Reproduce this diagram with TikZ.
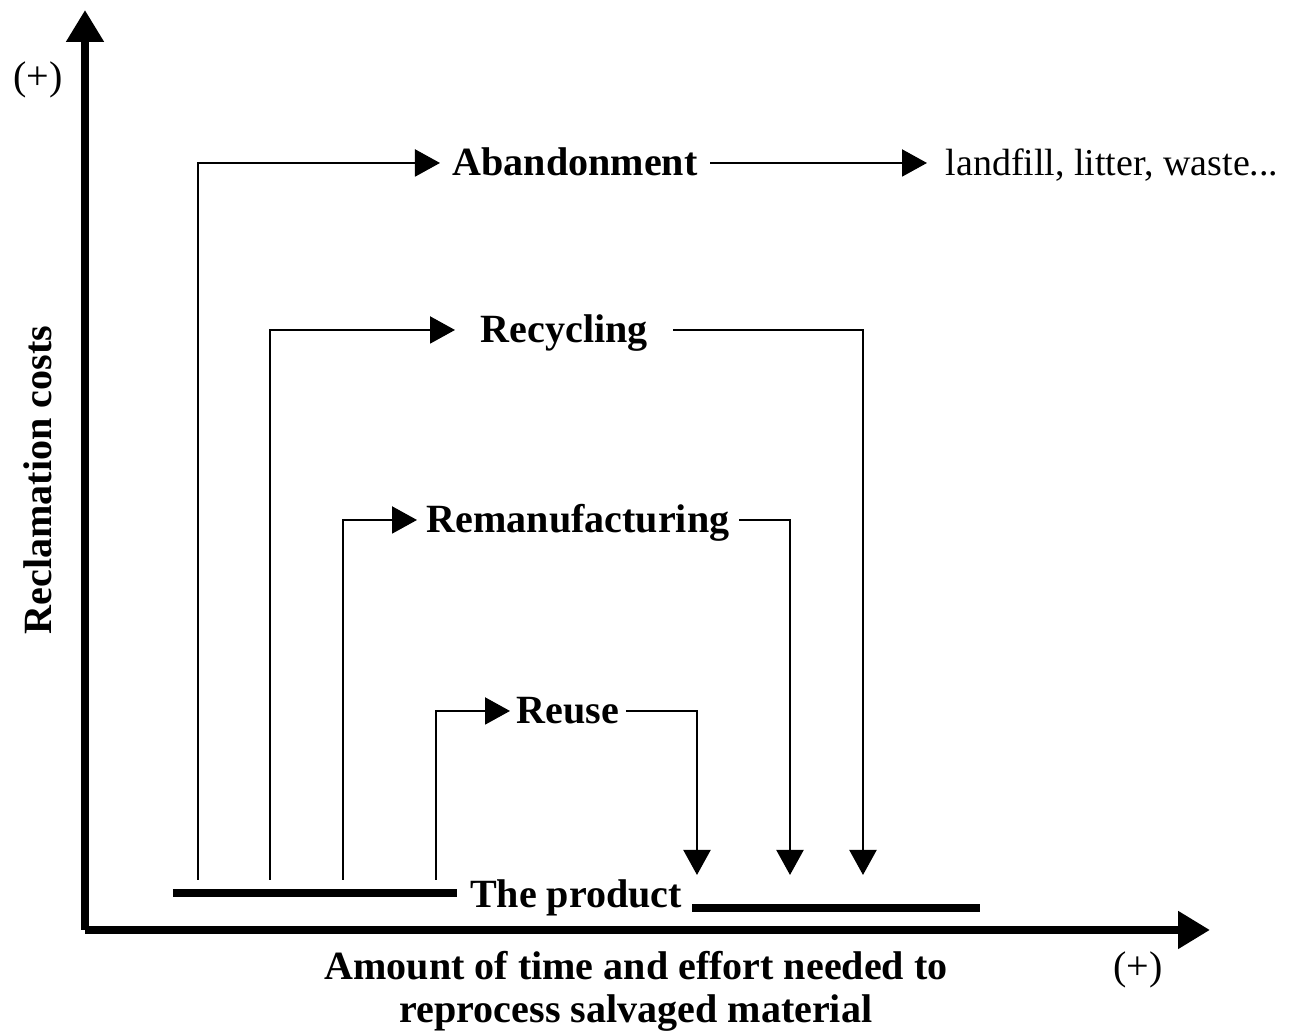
\documentclass[tikz,border=0pt]{standalone}
\usepackage{fontspec}
\setmainfont{Liberation Serif}
\usetikzlibrary{arrows.meta,positioning}

\begin{document}
\begin{tikzpicture}[
    stage/.style={font=\fontsize{11.4}{13}\selectfont\bfseries, inner ysep=0pt, inner xsep=0.12cm, text height=0.32cm, text depth=0.06cm},
    plain/.style={font=\fontsize{11.4}{13}\selectfont, inner ysep=0pt, inner xsep=0.18cm, text height=0.32cm, text depth=0.06cm},
    xlab/.style={font=\fontsize{11.4}{12.2}\selectfont\bfseries, align=center, inner sep=0pt},
    flow/.style={line width=0.6pt, -{Triangle[length=0.25cm,width=0.27cm]}},
    link/.style={line width=0.6pt},
    axis/.style={line width=2.4pt, -{Triangle[length=0.32cm,width=0.36cm]}},
    bar/.style={line width=2.4pt}]
    \useasboundingbox (0,0) rectangle (13.15,10.31);

    % axes
    \coordinate (o) at (0.85,1.01);
    \coordinate (ytop) at (0.85,10.21);
    \coordinate (xend) at (12.10,1.01);
    \draw[axis] (o) -- (ytop);
    \draw[axis] (o) -- (xend);
    \node[plain] (yplus) at (0.38,9.54) {(+)};
    \node[plain] (xplus) at (11.38,0.64) {(+)};
    \node[stage, rotate=90] (ylab) at (0.38,5.51) {Reclamation costs};
    \node[xlab] (xlab) at (6.36,0.40) {Amount of time and effort needed to\\reprocess salvaged material};

    % the product
    \node[stage] (prod) at (5.76,1.36) {The product};
    \coordinate (b1) at (1.73,1.38); \coordinate (b2) at (4.57,1.38);
    \coordinate (b3) at (6.92,1.23); \coordinate (b4) at (9.80,1.23);
    \draw[bar] (b1) -- (b2);
    \draw[bar] (b3) -- (b4);

    % options
    \node[stage, anchor=west] (aband) at (4.40,8.68) {Abandonment};
    \node[stage, anchor=west, inner xsep=0.25cm] (recyc) at (4.55,7.01) {Recycling};
    \node[stage, anchor=west, inner xsep=0.09cm] (reman) at (4.17,5.11) {Remanufacturing};
    \node[stage, anchor=west, inner xsep=0.06cm] (reuse) at (5.10,3.20) {Reuse};
    \node[plain, anchor=west, font=\fontsize{10.8}{13}\selectfont] (waste) at (9.27,8.68) {landfill, litter, waste...};

    \coordinate (s1) at (1.98,1.51); \coordinate (s2) at (2.70,1.51);
    \coordinate (s3) at (3.43,1.51); \coordinate (s4) at (4.36,1.51);
    \coordinate (e1) at (8.63,1.56); \coordinate (e2) at (7.90,1.56);
    \coordinate (e3) at (6.97,1.56);

    \draw[flow] (s1) |- (aband.west);
    \draw[flow] (s2) |- (recyc.west);
    \draw[flow] (s3) |- (reman.west);
    \draw[flow] (s4) |- (reuse.west);
    \draw[flow] (aband.east) -- (waste.west);
    \draw[flow] (recyc.east) -| (e1);
    \draw[flow] (reman.east) -| (e2);
    \draw[flow] (reuse.east) -| (e3);
\end{tikzpicture}
\end{document}
